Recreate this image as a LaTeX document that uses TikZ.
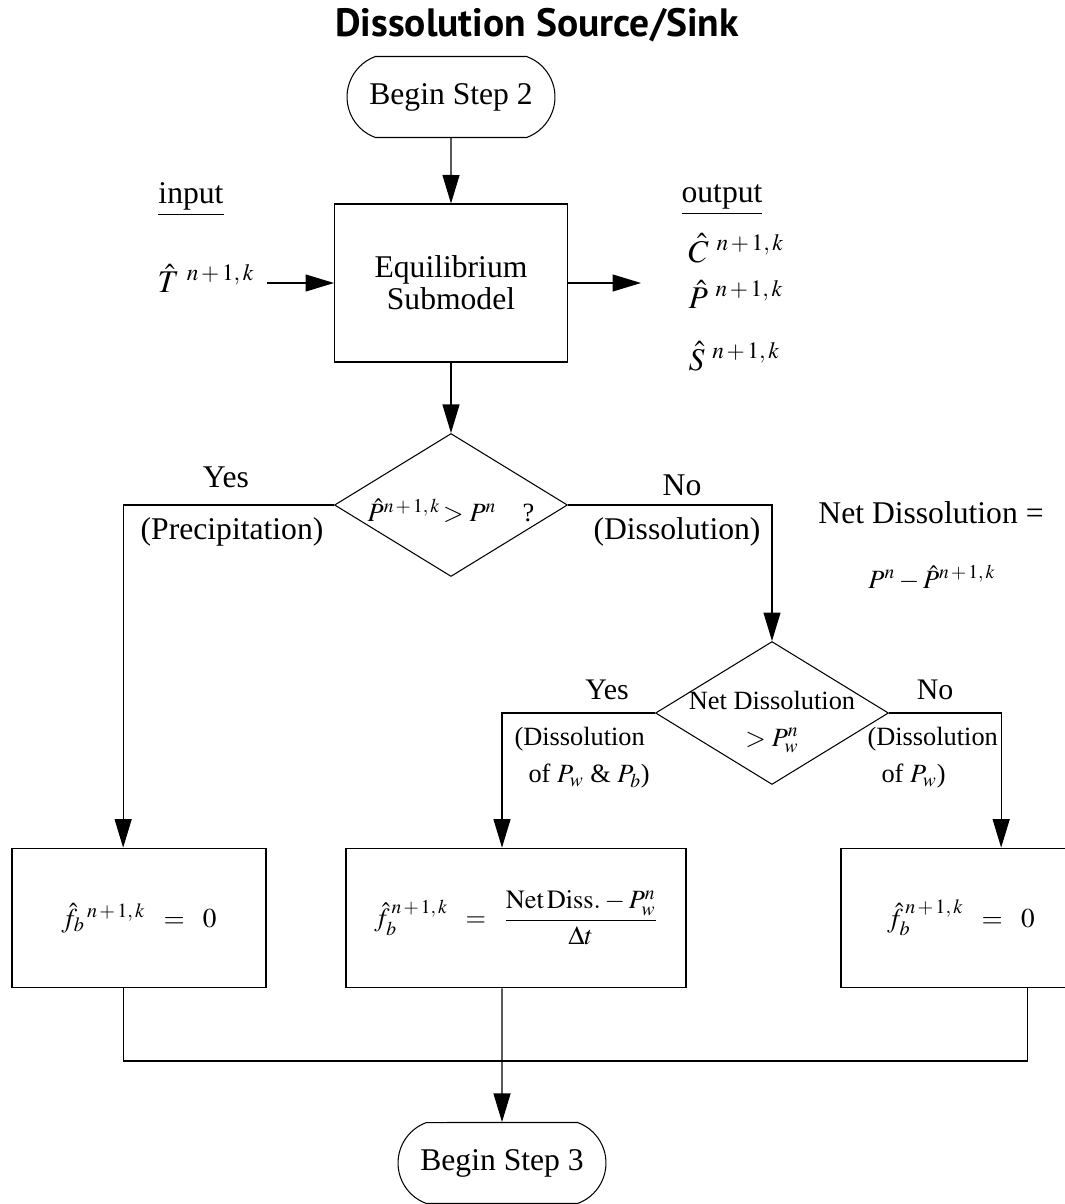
\documentclass[tikz,border=0pt]{standalone}
\usepackage{amsmath}
\usepackage{mathptmx}
\usepackage[no-math]{fontspec}
\setmainfont{Liberation Serif}
\newfontfamily\headfont{PT Sans}
\usetikzlibrary{calc,arrows.meta,shapes.geometric,shapes.misc}
\tikzset{
  txt/.style={font=\fontsize{18}{21}\selectfont, inner sep=0pt},
  small/.style={font=\fontsize{15}{21}\selectfont, inner sep=0pt},
  arr/.style={-{Triangle[length=0.57cm,width=0.34cm]}},
  terminal/.style={draw, rounded rectangle, rounded rectangle arc length=140,
    minimum width=4.16cm, minimum height=1.62cm, txt},
  proc/.style={draw, rectangle, txt, align=center, font=\fontsize{18}{18.3}\selectfont},
  decide/.style={draw, diamond, minimum width=4.66cm, minimum height=2.86cm, inner sep=0pt},
  result/.style={draw, line width=1pt, minimum height=2.78cm, inner sep=0pt,
    font=\fontsize{15.5}{18}\selectfont},
}

\begin{document}
\begin{tikzpicture}[x=0.02cm, y=-0.02cm, line width=0.6pt]
\useasboundingbox (0,0) rectangle (1065,1204);
\node[font=\headfont\bfseries\fontsize{22.5}{26}\selectfont] (title) at (537,25) {Dissolution Source/Sink};
% top part
\node[terminal] (start) at (451,97) {Begin Step 2};
\node[proc, minimum width=4.66cm, minimum height=3.16cm] (eq) at (451,283) {Equilibrium\\Submodel};
\node[txt, anchor=base] (inlab) at (191,203) {\underline{input}};
\node[txt, anchor=base west] (tin) at (157,292) {$\hat{T}^{\;\,n\,+\,1,\,k}$};
\node[txt, anchor=base] (outlab) at (722,202) {\underline{output}};
\node[txt, anchor=base west] (cout) at (688,262) {$\hat{C}^{\;\,n\,+\,1,\,k}$};
\node[txt, anchor=base west] (pout) at (688,308) {$\hat{P}^{\;\,n\,+\,1,\,k}$};
\node[txt, anchor=base west] (sout) at (688,370) {$\hat{S}^{\;\,n\,+\,1,\,k}$};
\coordinate (inarr) at (267,283);
\coordinate (outarr) at (641,283);
% decisions
\node[decide, label={[small, font=\fontsize{15}{20}\selectfont, yshift=-0.12cm]center:{$\hat{P}^{n\,+\,1,\,k}\!>P^n$\quad ?}}] (d1) at (451,505) {};
\node[txt] (yes1) at (226,477) {Yes};
\node[txt] (prec) at (232,532) {(Precipitation)};
\node[txt] (no1) at (682,485) {No};
\node[txt] (diss1) at (677,532) {(Dissolution)};
\node[txt] (netlab) at (931,513) {Net Dissolution =};
\node[small] (netval) at (932,578) {$P^n - \hat{P}^{n\,+\,1,\,k}$};
\node[decide, label={[small, align=center, yshift=-0.18cm]center:{Net Dissolution\\$>P_w^n$}}] (d2) at (772,713) {};
\node[txt, font=\fontsize{17}{20}\selectfont] (yes2) at (607,690) {Yes};
\node[txt, font=\fontsize{17}{20}\selectfont] (no2) at (935,690) {No};
\node[small, align=left, anchor=west] (dissl) at (514,758) {(Dissolution\\\hspace{0.28cm}of $P_w$ \& $P_b$)};
\node[small, align=left, anchor=west] (dissr) at (867,758) {(Dissolution\\\hspace{0.28cm}of $P_w$)};
% results
\node[result, minimum width=5.08cm] (ba) at (139,918) {$\hat{f}_b{}^{\,n\,+\,1,\,k}\;\;=\;\;0$};
\node[result, minimum width=6.8cm, font=\fontsize{15}{18}\selectfont] (bb) at (516,918) {$\hat{f}_b^{\,n\,+\,1,\,k}\;\;=\;\;\dfrac{\mathrm{Net\,Diss.}-P_w^n}{\Delta t}$};
\node[result, minimum width=4.8cm] (bc) at (961,918) {$\hat{f}_b^{\,n\,+\,1,\,k}\;\;=\;\;0$};
\node[terminal] (end) at (502,1163) {Begin Step 3};
\coordinate (join) at (502,1061);
% connectors
\draw[arr] (start) -- (eq);
\draw[arr] (inarr) -- (eq.west);
\draw[arr] (eq.east) -- (outarr);
\draw[arr] (eq) -- (d1);
\draw[arr] (d1.west) -| ($(ba.north west)+(112,0)$);
\draw[arr] (d1.east) -| (d2.north);
\draw[arr] (d2.west) -| (bb.north -| end.north);
\draw[arr] (d2.east) -| ($(bc.north west)+(161,0)$);
\draw ($(ba.south west)+(112,0)$) |- (join) -| ($(bc.south west)+(187,0)$);
\draw[arr] (bb.south -| end.north) -- (end);
\end{tikzpicture}
\end{document}
